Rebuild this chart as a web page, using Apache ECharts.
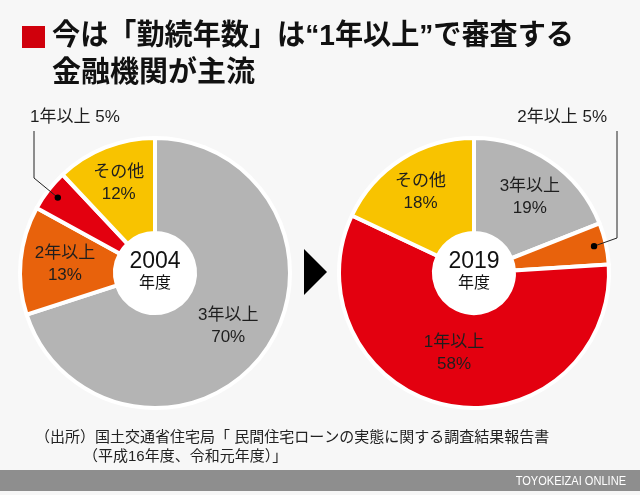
<!DOCTYPE html>
<html>
<head>
<meta charset="utf-8">
<script src="https://cdn.jsdelivr.net/npm/echarts@6/dist/echarts.min.js"></script>
<style>
  html, body { margin: 0; padding: 0; background: #f7f7f7; }
  #chart { width: 640px; height: 495px; }
</style>
</head>
<body>
<div id="chart"></div>
<script>
// ---- data ----
const categories = ['3年以上', '2年以上', '1年以上', 'その他'];
const values2004 = [70, 13, 5, 12];
const values2019 = [19, 5, 58, 18];
const years = ['2004', '2019'];
const yearUnit = '年度';
const titleLines = ['今は「勤続年数」は“1年以上”で審査する', '金融機関が主流'];
const sourceLines = ['（出所）国土交通省住宅局「 民間住宅ローンの実態に関する調査結果報告書', '（平成16年度、令和元年度）」'];
const brand = 'TOYOKEIZAI ONLINE';

// ---- styling ----
const colorMap = { '3年以上': '#b4b4b4', '2年以上': '#e8620c', '1年以上': '#e3000f', 'その他': '#f8c300' };
const FONT = '"Liberation Sans", "Noto Sans CJK JP", sans-serif';
const centers = [[155, 273], [474, 273]];
const R0 = 40, R1 = 135;
// fine label nudges per chart (by category)
const labelNudge = [
  { 'その他': [-3, -6] },
  { '3年以上': [5, -1], 'その他': [-5, -4], '1年以上': [-3, -9] }
];
// annotation geometry for small-slice callouts (label anchor, elbow, top)
const callouts = [
  { x: 30, y: 117, align: 'left', lineX: 34, elbowY: 178, topY: 131 },
  { x: 607, y: 117, align: 'right', lineX: 617, elbowY: 238, topY: 131 }
];

function midPoint(vals, idx, c, r) {
  const total = vals.reduce((a, b) => a + b, 0);
  let cum = 0;
  for (let i = 0; i < idx; i++) cum += vals[i];
  const th = (cum + vals[idx] / 2) / total * Math.PI * 2;
  return [c[0] + r * Math.sin(th), c[1] - r * Math.cos(th)];
}

const dots = [];
function buildSeries(vals, si) {
  const smallIdx = vals.indexOf(Math.min(...vals));
  const c = centers[si];
  const co = callouts[si];
  dots.push(midPoint(vals, smallIdx, c, 123));
  return {
    type: 'pie',
    center: c,
    radius: [R0, R1],
    startAngle: 90,
    clockwise: true,
    silent: true,
    animation: false,
    avoidLabelOverlap: false,
    itemStyle: { borderColor: '#ffffff', borderWidth: 4 },
    label: {
      show: true,
      position: 'inside',
      formatter: '{b}\n{c}%',
      color: '#1e1e1e',
      fontSize: 17,
      lineHeight: 22,
      fontFamily: FONT
    },
    labelLine: { show: false },
    labelLayout: function (p) {
      if (p.dataIndex !== smallIdx) return {};
      return { x: co.x, y: co.y, align: co.align, verticalAlign: 'middle' };
    },
    data: categories.map((name, i) => {
      const d = { name: name, value: vals[i], itemStyle: { color: colorMap[name] } };
      if (i === smallIdx) {
        d.label = { position: 'outside', formatter: '{b} {c}%', color: '#1e1e1e', fontSize: 17 };
        d.labelLine = { show: false };
      } else if (labelNudge[si][name]) {
        d.label = { offset: labelNudge[si][name] };
      }
      return d;
    })
  };
}

const series = [buildSeries(values2004, 0), buildSeries(values2019, 1)];

const graphic = [];
// bottom band & brand
graphic.push({ type: 'rect', shape: { x: 0, y: 470, width: 640, height: 21 }, style: { fill: '#8e8e8e' }, z: 1 });
graphic.push({ type: 'text', x: 626, y: 481, scaleX: 0.85, style: { text: brand, x: 0, y: 0, align: 'right', verticalAlign: 'middle', fill: '#ffffff', fontSize: 13, fontFamily: '"Liberation Sans", sans-serif' }, z: 2 });
// title
graphic.push({ type: 'rect', shape: { x: 22, y: 26, width: 23, height: 22 }, style: { fill: '#d0000c' } });
graphic.push({ type: 'text', x: 52, y: 37, scaleX: 0.97, style: { text: titleLines[0], x: 0, y: 0, verticalAlign: 'middle', fill: '#111', fontSize: 29, fontWeight: 'bold', fontFamily: FONT } });
graphic.push({ type: 'text', style: { text: titleLines[1], x: 52, y: 74, verticalAlign: 'middle', fill: '#111', fontSize: 29, fontWeight: 'bold', fontFamily: FONT } });
// source
graphic.push({ type: 'text', style: { text: sourceLines[0], x: 35, y: 438, verticalAlign: 'middle', fill: '#222', fontSize: 15, fontFamily: FONT } });
graphic.push({ type: 'text', style: { text: sourceLines[1], x: 83, y: 457, verticalAlign: 'middle', fill: '#222', fontSize: 15, fontFamily: FONT } });
// arrow
graphic.push({ type: 'polygon', shape: { points: [[304, 249], [304, 295], [327, 272]] }, style: { fill: '#000' } });
// center disks + labels + callouts
centers.forEach((c, i) => {
  const co = callouts[i];
  const dot = dots[i];
  graphic.push({ type: 'circle', shape: { cx: c[0], cy: c[1], r: R0 }, style: { fill: '#ffffff' }, z: 5 });
  graphic.push({ type: 'text', style: { text: years[i], x: c[0], y: c[1] - 11, align: 'center', verticalAlign: 'middle', fill: '#111', fontSize: 23, fontFamily: FONT }, z: 6 });
  graphic.push({ type: 'text', style: { text: yearUnit, x: c[0], y: c[1] + 11, align: 'center', verticalAlign: 'middle', fill: '#111', fontSize: 16, fontFamily: FONT }, z: 6 });
  graphic.push({ type: 'polyline', shape: { points: [[co.lineX, co.topY], [co.lineX, co.elbowY], [dot[0], dot[1]]] }, style: { stroke: '#222', lineWidth: 1, fill: null }, z: 10 });
  graphic.push({ type: 'circle', shape: { cx: dot[0], cy: dot[1], r: 3.2 }, style: { fill: '#000' }, z: 10 });
});

const chart = echarts.init(document.getElementById('chart'), null, { renderer: 'canvas' });
chart.setOption({
  backgroundColor: '#f7f7f7',
  animation: false,
  series: series,
  graphic: graphic
});
</script>
</body>
</html>
